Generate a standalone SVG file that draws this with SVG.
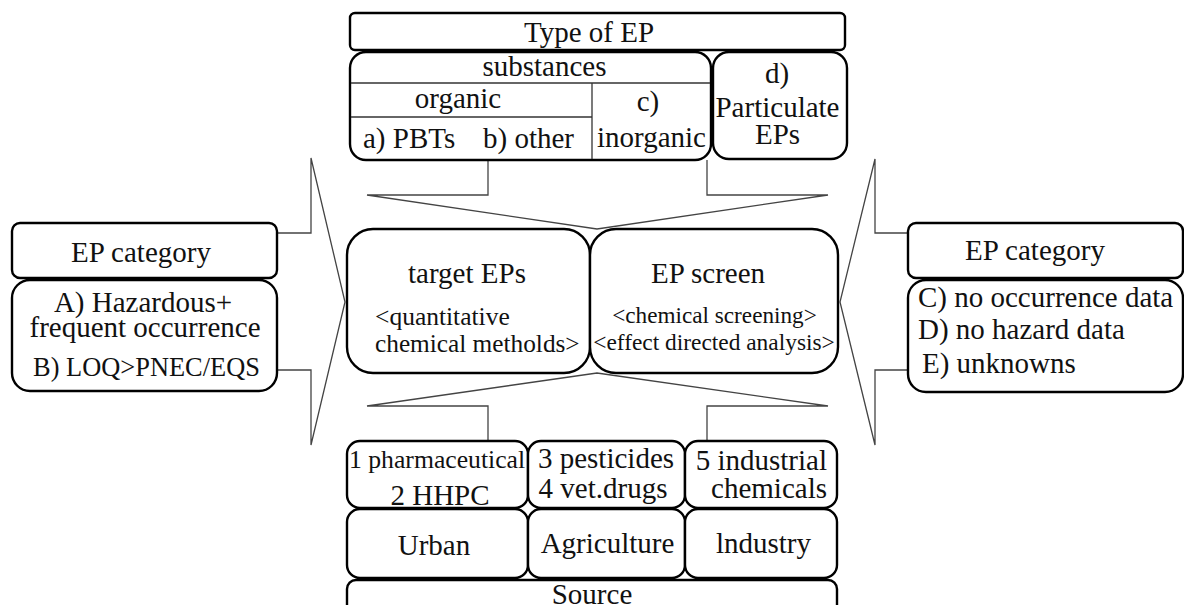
<svg xmlns="http://www.w3.org/2000/svg" width="1184" height="605" viewBox="0 0 1184 605" font-family="Liberation Serif, Times New Roman, serif">
<style>
text { font-family: "Liberation Serif", "Times New Roman", serif; font-size: 29px; fill: #111; }
.m { text-anchor: middle; }
.e { text-anchor: end; }
.box { fill: #fff; stroke: #000; stroke-width: 2.4; }
.div { stroke: #333; stroke-width: 1.3; fill: none; }
.arr { fill: none; stroke: #444; stroke-width: 1.3; }
</style>
<rect width="1184" height="605" fill="#fff"/>
<g id="connectors">
<polyline class="arr" points="488,160 488,195 367,195 597,229 828,195 707,195 707,160"/>
<polyline class="arr" points="488,440 488,406 367,406 597,373 828,406 707,406 707,440"/>
<polyline class="arr" points="278,233 311,233 311,158 345,302 311,445 311,370 278,370"/>
<polyline class="arr" points="910,233 875,233 875,159 840,302 875,445 875,370 910,370"/>
</g>
<g id="type-of-ep">
<rect class="box" x="350" y="13" width="495" height="37" rx="5"/>
<text font-family="Liberation Serif" class="m" x="589" y="42">Type of EP</text>
</g>
<g id="substances">
<rect class="box" x="350" y="52" width="361" height="108" rx="16"/>
<line class="div" x1="351" y1="83" x2="710" y2="83"/>
<line class="div" x1="592" y1="83" x2="592" y2="159"/>
<line class="div" x1="351" y1="117" x2="592" y2="117"/>
<text font-family="Liberation Serif" class="m" x="544.5" y="76">substances</text>
<text font-family="Liberation Serif" class="m" x="458" y="108">organic</text>
<text font-family="Liberation Serif" x="363" y="148">a) PBTs</text>
<text font-family="Liberation Serif" x="483" y="148">b) other</text>
<text font-family="Liberation Serif" class="m" x="648" y="111">c)</text>
<text font-family="Liberation Serif" class="m" x="651.5" y="147">inorganic</text>
</g>
<g id="particulate">
<rect class="box" x="713" y="52" width="134" height="107" rx="16"/>
<text font-family="Liberation Serif" class="m" x="777" y="83">d)</text>
<text font-family="Liberation Serif" class="m" x="777.5" y="117">Particulate</text>
<text font-family="Liberation Serif" class="m" x="777.5" y="144">EPs</text>
</g>
<g id="left-category">
<rect class="box" x="12" y="223" width="265" height="55" rx="8"/>
<text font-family="Liberation Serif" class="m" x="141" y="262">EP category</text>
</g>
<g id="left-items">
<rect class="box" x="12" y="280" width="265" height="111" rx="18"/>
<text font-family="Liberation Serif" class="m" x="143" y="312">A) Hazardous+</text>
<text font-family="Liberation Serif" class="m" x="145" y="337">frequent occurrence</text>
<text font-family="Liberation Serif" class="m" x="146.5" y="376" style="font-size:26.4px">B) LOQ&gt;PNEC/EQS</text>
</g>
<g id="target-eps">
<rect class="box" x="347" y="229" width="243" height="144" rx="26"/>
<text font-family="Liberation Serif" class="m" x="467" y="283">target EPs</text>
<text font-family="Liberation Serif" x="375" y="325" style="font-size:25.5px">&lt;quantitative</text>
<text font-family="Liberation Serif" x="375" y="352" style="font-size:25.3px">chemical metholds&gt;</text>
</g>
<g id="ep-screen">
<rect class="box" x="590" y="229" width="248" height="144" rx="26"/>
<text font-family="Liberation Serif" class="m" x="708" y="283">EP screen</text>
<text font-family="Liberation Serif" class="m" x="714.5" y="323" style="font-size:23.2px">&lt;chemical screening&gt;</text>
<text font-family="Liberation Serif" class="m" x="714" y="350" style="font-size:23.4px">&lt;effect directed analysis&gt;</text>
</g>
<g id="right-category">
<rect class="box" x="908" y="223" width="275" height="55" rx="8"/>
<text font-family="Liberation Serif" class="m" x="1035" y="260">EP category</text>
</g>
<g id="right-items">
<rect class="box" x="908" y="280" width="275" height="112" rx="18"/>
<text font-family="Liberation Serif" x="918" y="307">C) no occurrence data</text>
<text font-family="Liberation Serif" x="918" y="339">D) no hazard data</text>
<text font-family="Liberation Serif" x="922" y="373">E) unknowns</text>
</g>
<g id="urban-substances">
<rect class="box" x="347" y="441" width="181" height="67" rx="13"/>
<text font-family="Liberation Serif" x="349" y="468" style="font-size:25.7px">1 pharmaceutical</text>
<text font-family="Liberation Serif" class="m" x="440" y="505">2 HHPC</text>
</g>
<g id="agri-substances">
<rect class="box" x="528" y="441" width="157" height="67" rx="13"/>
<text font-family="Liberation Serif" class="m" x="606" y="468">3 pesticides</text>
<text font-family="Liberation Serif" class="m" x="603" y="498">4 vet.drugs</text>
</g>
<g id="industry-substances">
<rect class="box" x="685" y="441" width="152" height="67" rx="13"/>
<text font-family="Liberation Serif" class="e" x="827" y="470">5 industrial</text>
<text font-family="Liberation Serif" class="e" x="827" y="498">chemicals</text>
</g>
<g id="urban">
<rect class="box" x="347" y="509" width="181" height="69" rx="13"/>
<text font-family="Liberation Serif" class="m" x="434" y="555">Urban</text>
</g>
<g id="agriculture">
<rect class="box" x="528" y="509" width="157" height="69" rx="13"/>
<text font-family="Liberation Serif" class="m" x="607.5" y="553">Agriculture</text>
</g>
<g id="industry">
<rect class="box" x="685" y="509" width="152" height="69" rx="13"/>
<text font-family="Liberation Serif" class="m" x="763.5" y="553">lndustry</text>
</g>
<g id="source">
<rect class="box" x="347" y="580" width="490" height="40" rx="9"/>
<text font-family="Liberation Serif" class="m" x="592" y="604">Source</text>
</g>
</svg>
